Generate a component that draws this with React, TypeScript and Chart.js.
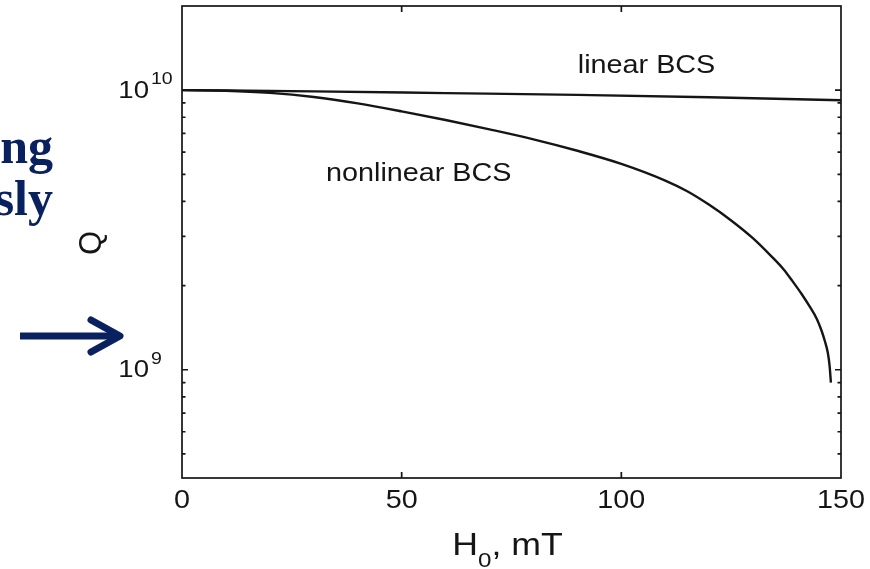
import React, { useEffect, useRef } from "react";
import { Chart, registerables } from "chart.js";

Chart.register(...registerables);

// ---- data ----
const H_LINEAR = [0, 30, 60, 90, 120, 150];
const Q_LINEAR = [1.0e10, 0.99e10, 0.976e10, 0.962e10, 0.943e10, 0.92e10];

const H_NONLINEAR = [0, 10, 20, 30, 40, 50, 60, 70, 80, 90, 100, 110, 115, 120, 125, 130, 134, 137, 139, 141, 143, 144.5, 145.5, 146.3, 147, 147.4, 147.7];
const Q_NONLINEAR = [1.0e10, 9.95e9, 9.78e9, 9.45e9, 8.97e9, 8.4e9, 7.82e9, 7.24e9, 6.67e9, 6.07e9, 5.45e9, 4.75e9, 4.35e9, 3.89e9, 3.42e9, 2.95e9, 2.56e9, 2.28e9, 2.07e9, 1.87e9, 1.67e9, 1.52e9, 1.39e9, 1.27e9, 1.15e9, 1.035e9, 9.0e8];

const X_TICKS = [0, 50, 100, 150];
const Y_MAJOR = [1e9, 1e10];
const Y_MAJOR_EXP = ["9", "10"];
const Y_MINOR = [5e8, 6e8, 7e8, 8e8, 9e8, 2e9, 3e9, 4e9, 5e9, 6e9, 7e9, 8e9, 9e9];

const ANNOT_TEXT = ["linear BCS", "nonlinear BCS"];
const ANNOT_H = [90.1, 32.8];
const ANNOT_Q = [1.22e10, 5.0e9];

const X_TITLE_MAIN = "H";
const X_TITLE_SUB = "0";
const X_TITLE_REST = ", mT";
const Y_TITLE = "Q";

const SIDE_WORDS = ["ng", "sly"];

const NAVY = "#0a2160";
const INK = "#151515";
const SANS = '"Liberation Sans", Arial, Helvetica, sans-serif';
const SX = 1.15;

function drawText(
  ctx: CanvasRenderingContext2D,
  text: string,
  x: number,
  y: number,
  size: number,
  align: "left" | "center" | "right",
  baseline: CanvasTextBaseline,
  sx: number = SX
) {
  ctx.save();
  ctx.font = `${size}px ${SANS}`;
  ctx.textBaseline = baseline;
  ctx.textAlign = "left";
  const w = ctx.measureText(text).width * sx;
  const left = align === "center" ? x - w / 2 : align === "right" ? x - w : x;
  ctx.translate(left, y);
  ctx.scale(sx, 1);
  ctx.fillStyle = INK;
  ctx.fillText(text, 0, 0);
  ctx.restore();
  return w;
}

function measure(ctx: CanvasRenderingContext2D, text: string, size: number, sx: number = SX) {
  ctx.save();
  ctx.font = `${size}px ${SANS}`;
  const w = ctx.measureText(text).width * sx;
  ctx.restore();
  return w;
}

const axesPlugin = {
  id: "matlabAxes",
  afterDatasetsDraw(chart: any) {
    const { ctx, chartArea, scales } = chart;
    const { left, right, top, bottom } = chartArea;
    const xs = scales.x;
    const ys = scales.y;
    ctx.save();
    ctx.strokeStyle = INK;
    ctx.lineWidth = 1.7;
    ctx.strokeRect(left, top, right - left, bottom - top);

    ctx.lineWidth = 1.7;
    ctx.beginPath();
    X_TICKS.forEach((v) => {
      const px = xs.getPixelForValue(v);
      if (px <= left + 1 || px >= right - 1) return;
      ctx.moveTo(px, bottom);
      ctx.lineTo(px, bottom - 6);
      ctx.moveTo(px, top);
      ctx.lineTo(px, top + 6);
    });
    Y_MAJOR.forEach((v) => {
      const py = ys.getPixelForValue(v);
      ctx.moveTo(left, py);
      ctx.lineTo(left + 6, py);
      ctx.moveTo(right, py);
      ctx.lineTo(right - 6, py);
    });
    Y_MINOR.forEach((v) => {
      const py = ys.getPixelForValue(v);
      ctx.moveTo(left, py);
      ctx.lineTo(left + 3.5, py);
      ctx.moveTo(right, py);
      ctx.lineTo(right - 3.5, py);
    });
    ctx.stroke();
    ctx.restore();

    // x tick labels
    X_TICKS.forEach((v) => {
      drawText(ctx, String(v), xs.getPixelForValue(v), 501, 25, "center", "middle");
    });

    // y tick labels 10^n
    Y_MAJOR.forEach((v, i) => {
      const py = ys.getPixelForValue(v);
      drawText(ctx, "10", 149, py + 1, 24, "right", "middle");
      drawText(ctx, Y_MAJOR_EXP[i], 151, py - 6, 17, "left", "alphabetic");
    });

    // x title H0, mT
    const sMain = 31;
    const sSub = 21;
    const wH = measure(ctx, X_TITLE_MAIN, sMain);
    const wSub = measure(ctx, X_TITLE_SUB, sSub);
    const wRest = measure(ctx, X_TITLE_REST, sMain);
    const total = wH + wSub + wRest;
    const cx = (left + right) / 2;
    let xx = cx - total / 2 - 4;
    const base = 555;
    drawText(ctx, X_TITLE_MAIN, xx, base, sMain, "left", "alphabetic");
    xx += wH;
    drawText(ctx, X_TITLE_SUB, xx, base + 12, sSub, "left", "alphabetic");
    xx += wSub;
    drawText(ctx, X_TITLE_REST, xx, base, sMain, "left", "alphabetic");

    // y title Q (rotated)
    ctx.save();
    ctx.translate(92, 243);
    ctx.rotate(-Math.PI / 2);
    drawText(ctx, Y_TITLE, 0, 0, 31, "center", "middle", 1.0);
    ctx.restore();

    // annotations
    ANNOT_TEXT.forEach((t, i) => {
      drawText(ctx, t, xs.getPixelForValue(ANNOT_H[i]), ys.getPixelForValue(ANNOT_Q[i]), 25, "left", "middle");
    });
  },
};

export default function App() {
  const ref = useRef<HTMLCanvasElement | null>(null);

  useEffect(() => {
    if (!ref.current) return;
    const mk = (hs: number[], qs: number[]) => hs.map((x, i) => ({ x, y: qs[i] }));
    const chart = new Chart(ref.current, {
      type: "line",
      data: {
        datasets: [
          {
            label: "linear BCS",
            data: mk(H_LINEAR, Q_LINEAR),
            borderColor: INK,
            borderWidth: 2.4,
            pointRadius: 0,
            cubicInterpolationMode: "monotone",
            fill: false,
          },
          {
            label: "nonlinear BCS",
            data: mk(H_NONLINEAR, Q_NONLINEAR),
            borderColor: INK,
            borderWidth: 2.4,
            pointRadius: 0,
            cubicInterpolationMode: "monotone",
            fill: false,
          },
        ],
      },
      options: {
        animation: false,
        responsive: false,
        devicePixelRatio: 1,
        events: [],
        layout: { padding: { left: 182, right: 29, top: 6, bottom: 91 } },
        plugins: { legend: { display: false }, tooltip: { enabled: false } },
        scales: {
          x: { type: "linear", min: 0, max: 150, display: false },
          y: { type: "logarithmic", min: 4.1e8, max: 2e10, display: false },
        },
      },
      plugins: [axesPlugin],
    } as any);
    return () => chart.destroy();
  }, []);

  const wordStyle = (top: number): React.CSSProperties => ({
    position: "absolute",
    right: 870 - 53,
    top,
    fontFamily: '"Liberation Serif", "Times New Roman", serif',
    fontWeight: "bold",
    fontSize: 50,
    lineHeight: "50px",
    color: NAVY,
    whiteSpace: "nowrap",
    textAlign: "right",
  });

  return (
    <div
      style={{
        position: "fixed",
        left: 0,
        top: 0,
        width: 870,
        height: 569,
        background: "#fff",
        overflow: "hidden",
      }}
    >
      <canvas ref={ref} width={870} height={569} style={{ position: "absolute", left: 0, top: 0, width: 870, height: 569 }} />
      <div style={wordStyle(121)}>{SIDE_WORDS[0]}</div>
      <div style={wordStyle(173)}>{SIDE_WORDS[1]}</div>
      <svg width={870} height={569} style={{ position: "absolute", left: 0, top: 0, pointerEvents: "none" }}>
        <line x1={20} y1={336} x2={118} y2={336} stroke={NAVY} strokeWidth={7} />
        <polyline points="91,320 120,336 91,352" fill="none" stroke={NAVY} strokeWidth={7} strokeLinecap="round" strokeLinejoin="round" />
      </svg>
    </div>
  );
}
